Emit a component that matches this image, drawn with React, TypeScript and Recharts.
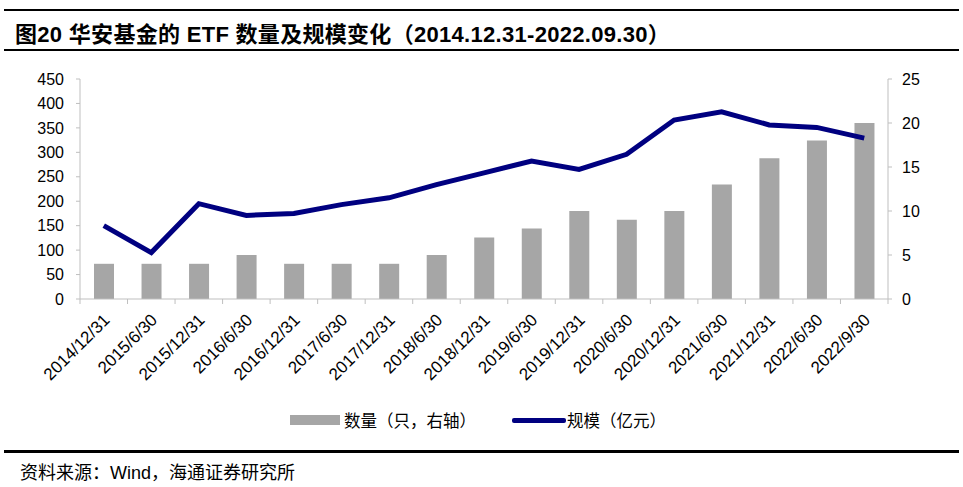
import React from "react";
import { ComposedChart, Bar, Line, XAxis, YAxis } from "recharts";

const dates = [
  "2014/12/31", "2015/6/30", "2015/12/31", "2016/6/30", "2016/12/31", "2017/6/30",
  "2017/12/31", "2018/6/30", "2018/12/31", "2019/6/30", "2019/12/31", "2020/6/30",
  "2020/12/31", "2021/6/30", "2021/12/31", "2022/6/30", "2022/9/30",
];
// 数量（只）— right axis
const counts = [4, 4, 4, 5, 4, 4, 4, 5, 7, 8, 10, 9, 10, 13, 16, 18, 20];
// 规模（亿元）— left axis
const scale = [150, 95, 195, 171, 175, 193, 207, 234, 258, 282, 265, 296, 366, 383, 356, 351, 329];

const leftTicks = [0, 50, 100, 150, 200, 250, 300, 350, 400, 450];
const rightTicks = [0, 5, 10, 15, 20, 25];

const data = dates.map((d, i) => ({ date: d, count: counts[i], scale: scale[i] }));

const FONT = '"Liberation Sans", Arial, "Noto Sans CJK SC", sans-serif';
const AXIS = "#bfbfbf";
const W = 963;
const PLOT_L = 80;
const PLOT_R = 888;
const BAND = (PLOT_R - PLOT_L) / dates.length;

function DateTick(props: any) {
  const { x, y, payload, index } = props;
  const tx = x + 7;
  const ty = y + 14;
  return (
    <g>
      <line x1={x + BAND / 2} x2={x + BAND / 2} y1={y - 8} y2={y - 3} stroke={AXIS} />
      {index === 0 && <line x1={x - BAND / 2} x2={x - BAND / 2} y1={y - 8} y2={y - 3} stroke={AXIS} />}
      <text
        x={tx}
        y={ty}
        transform={`rotate(-45, ${tx}, ${ty})`}
        textAnchor="end"
        fontSize={17}
        fontFamily={FONT}
        fill="#000"
      >
        {payload.value}
      </text>
    </g>
  );
}

export default function App() {
  return (
    <div style={{ position: "absolute", left: 0, top: 0, width: W, height: 487, background: "#fff", fontFamily: FONT }}>
      <div style={{ position: "absolute", left: 4, right: 4, top: 9, height: 2, background: "#000" }} />
      <div style={{ position: "absolute", left: 15, top: 16, fontSize: 22, fontWeight: "bold", letterSpacing: 0.3, color: "#000", whiteSpace: "nowrap" }}>
        图20 华安基金的 ETF 数量及规模变化（2014.12.31-2022.09.30）
      </div>
      <div style={{ position: "absolute", left: 4, right: 4, top: 49, height: 2, background: "#000" }} />

      <div style={{ position: "absolute", left: 0, top: 0 }}>
        <ComposedChart
          width={W}
          height={400}
          data={data}
          margin={{ top: 79, right: 15, bottom: 0, left: 30 }}
        >
          <XAxis
            dataKey="date"
            interval={0}
            height={101}
            stroke={AXIS}
            tickLine={false}
            tick={<DateTick />}
          />
          <YAxis
            yAxisId="left"
            orientation="left"
            width={50}
            domain={[0, 450]}
            ticks={leftTicks}
            interval={0}
            stroke={AXIS}
            tickSize={4}
            tickMargin={12}
            tick={{ fill: "#000", fontSize: 16, fontFamily: FONT }}
          />
          <YAxis
            yAxisId="right"
            orientation="right"
            width={60}
            domain={[0, 25]}
            ticks={rightTicks}
            interval={0}
            stroke={AXIS}
            tickSize={4}
            tickMargin={10}
            tick={{ fill: "#000", fontSize: 16, fontFamily: FONT }}
          />
          <Bar yAxisId="right" dataKey="count" fill="#a6a6a6" barSize={20} isAnimationActive={false} />
          <Line
            yAxisId="left"
            dataKey="scale"
            stroke="#000080"
            strokeWidth={5}
            dot={false}
            type="linear"
            isAnimationActive={false}
          />
        </ComposedChart>
      </div>

      <div style={{ position: "absolute", left: 290, top: 409, height: 22, display: "flex", alignItems: "center", fontSize: 16.5, color: "#000", whiteSpace: "nowrap" }}>
        <span style={{ display: "inline-block", width: 50, height: 10, background: "#a6a6a6", marginRight: 4 }} />
        <span>数量（只，右轴）</span>
        <span style={{ display: "inline-block", width: 54, height: 5, borderRadius: 2, background: "#000080", marginLeft: 36, marginRight: 1 }} />
        <span>规模（亿元）</span>
      </div>

      <div style={{ position: "absolute", left: 4, right: 4, top: 450, height: 3, background: "#000" }} />
      <div style={{ position: "absolute", left: 20, top: 458, fontSize: 18, color: "#000", whiteSpace: "nowrap" }}>
        资料来源：Wind，海通证券研究所
      </div>
    </div>
  );
}
